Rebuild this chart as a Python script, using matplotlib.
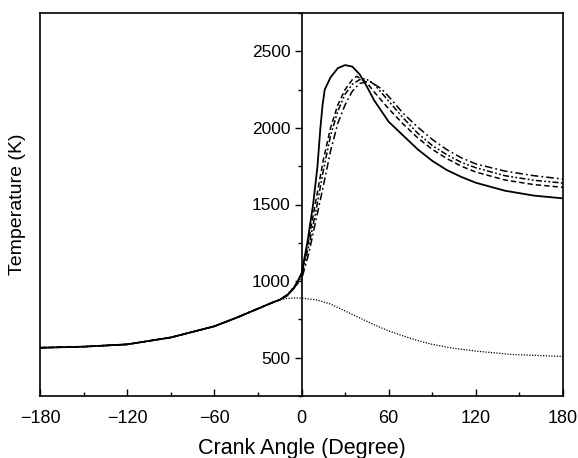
import numpy as np
import matplotlib
matplotlib.use("Agg")
import matplotlib.pyplot as plt
from matplotlib.ticker import MultipleLocator

plt.rcParams['font.family'] = ['Liberation Sans', 'DejaVu Sans']

# shared compression stroke (all cases)
comp_ang = [-180, -150, -120, -90, -60, -45, -30, -20, -15]
comp_T = [565, 572, 587, 632, 705, 760, 820, 860, 878]

# motoring (no combustion)
mot_ang = [-10, -5, 0, 10, 20, 30, 40, 50, 60, 70, 80, 90, 105, 120, 145, 180]
mot_T = [887, 890, 889, 878, 850, 805, 760, 715, 675, 642, 612, 587, 561, 543, 521, 508]

# combustion cases
solid_ang = [-10, -5, 0, 4, 8, 11, 13, 14.5, 16, 20, 25, 30, 35, 40, 45, 50, 60, 70, 80, 90, 100, 110, 120, 140, 160, 180]
solid_T = [905, 955, 1050, 1250, 1500, 1750, 2000, 2150, 2250, 2330, 2390, 2410, 2400, 2350, 2270, 2180, 2040, 1950, 1860, 1785, 1725, 1680, 1642, 1590, 1558, 1540]

dash_ang = [-10, -5, 0, 5, 10, 15, 20, 25, 30, 35, 38, 45, 50, 60, 70, 80, 90, 100, 110, 120, 140, 160, 180]
dash_T = [905, 960, 1040, 1270, 1530, 1790, 2000, 2150, 2250, 2315, 2337, 2295, 2235, 2125, 2025, 1935, 1860, 1800, 1750, 1712, 1660, 1630, 1612]

dd_ang = [-10, -5, 0, 5, 10, 15, 20, 25, 30, 35, 40, 44, 50, 60, 70, 80, 90, 100, 110, 120, 140, 160, 180]
dd_T = [910, 965, 1030, 1230, 1460, 1720, 1950, 2110, 2220, 2285, 2315, 2322, 2285, 2175, 2065, 1965, 1885, 1825, 1775, 1740, 1688, 1658, 1640]

dot_dash_ang = [-10, -5, 0, 5, 10, 15, 20, 25, 30, 35, 40, 47, 55, 60, 70, 80, 90, 100, 110, 120, 140, 160, 180]
dot_dash_T = [910, 960, 1010, 1180, 1400, 1620, 1850, 2030, 2150, 2240, 2290, 2305, 2255, 2205, 2095, 2005, 1925, 1858, 1805, 1765, 1718, 1688, 1666]

fig = plt.figure(figsize=(5.78, 4.58), dpi=100)
ax = fig.add_axes([40/578, 62/458, 523/578, 383/458])

ax.plot(comp_ang + mot_ang, comp_T + mot_T, color='black', lw=0.9, ls=(0, (1, 1.2)))
ax.plot(comp_ang + dot_dash_ang, comp_T + dot_dash_T, color='black', lw=1.1, ls=(0, (5, 2, 1.2, 2)))
ax.plot(comp_ang + dd_ang, comp_T + dd_T, color='black', lw=1.1, ls=(0, (4, 1.5, 1.2, 1.5, 1.2, 1.5)))
ax.plot(comp_ang + dash_ang, comp_T + dash_T, color='black', lw=1.1, ls=(0, (3.5, 2)))
ax.plot(comp_ang + solid_ang, comp_T + solid_T, color='black', lw=1.3)

ax.set_xlim(-180, 180)
ax.set_ylim(250, 2750)

ax.spines['left'].set_position(('data', 0))
for s in ax.spines.values():
    s.set_linewidth(1.2)
# outer left frame line
ax.plot([0, 0], [0, 1], transform=ax.transAxes, color='black', lw=1.2, clip_on=False)

ax.xaxis.set_major_locator(MultipleLocator(60))
ax.xaxis.set_minor_locator(MultipleLocator(30))
ax.yaxis.set_major_locator(MultipleLocator(500))
ax.yaxis.set_minor_locator(MultipleLocator(250))
ax.set_yticks([500, 1000, 1500, 2000, 2500])
ax.set_xticks([-180, -120, -60, 0, 60, 120, 180])
ax.set_xticklabels(['\u2212180', '\u2212120', '\u221260', '0', '60', '120', '180'])

ax.tick_params(axis='x', which='major', direction='in', length=5, width=1, labelsize=13, pad=10)
ax.tick_params(axis='x', which='minor', direction='in', length=3, width=1)
ax.tick_params(axis='y', which='major', direction='out', length=5, width=1, labelsize=12.5, pad=3)
ax.tick_params(axis='y', which='minor', direction='out', length=3, width=1)

ax.set_xlabel('Crank Angle (Degree)', fontsize=15.5, labelpad=8)
ax.set_ylabel('Temperature (K)', fontsize=14)
ax.yaxis.set_label_coords(-0.027, 0.5)

fig.savefig('out.png', dpi=100)
